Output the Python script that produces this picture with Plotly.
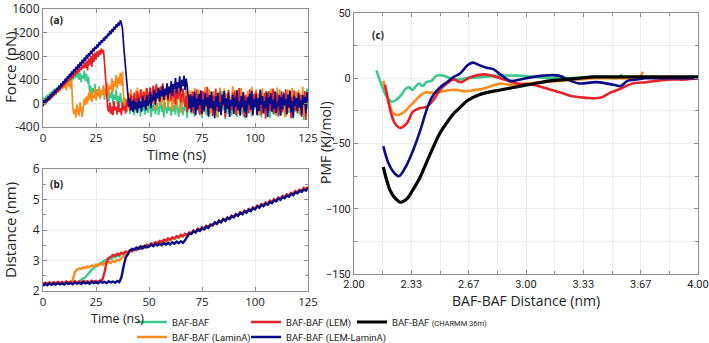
import numpy as np
import plotly.graph_objects as go

# ---------------- data ----------------
series_names = ["BAF-BAF", "BAF-BAF (LaminA)", "BAF-BAF (LEM)", "BAF-BAF (LEM-LaminA)", "BAF-BAF (CHARMM 36m)"]
colors = {"green": "#3cc98b", "orange": "#ff8a1c", "red": "#e52229", "navy": "#0b0b88", "black": "#000000"}

# (a) force vs time, sampled every 0.5 ns (0 .. 125 ns)
time_force = np.arange(0, 125.5, 0.5)

force_green = [
    20, 100, 40, 130, 80, 160, 110, 190, 140, 220, 170, 250, 190, 270, 220, 300, 240, 320, 270, 350,
    290, 380, 310, 400, 340, 430, 360, 460, 390, 500, 420, 540, 440, 560, 400, 520, 360, 480, 420, 560,
    380, 500, 340, 450, 160, 300, 120, 260, 180, 330, 100, 240, 160, 290, 90, 220, 140, 270, 60, 200,
    120, 250, 30, 180, 90, 220, -20, 150, 60, 240, 0, 130, -60, 180, 40, -90, 100, -40, 60, -150,
    -60, 50, -180, -20, -100, 60, -200, -40, 20, -150, -70, 40, -220, -10, -120, 70, -190, -50, 10, -160,
    -90, 30, -230, -30, -130, 50, -180, -60, 0, -200, -80, 40, -150, -20, -240, 20, -100, -170, 30, -130,
    -60, -210, 10, -140, -30, -190, 50, -110, -230, -20, -150, 40, -200, -60, -120, 30, -250, -10, -90, 60,
    -180, 100, -40, -220, 150, -110, 20, -170, 200, -60, -250, 80, -130, 0, -200, 120, -80, -230, 60, -150,
    40, -190, 170, -100, -20, -240, 110, -60, -160, 210, -120, 0, -270, 90, -50, -180, 140, -10, -210, 60,
    -130, 180, -70, -230, 40, -150, 250, -40, -190, 100, -100, -260, 60, -20, -160, 150, -80, -220, 20, -120,
    190, -60, -200, 80, -140, 10, -240, 130, -90, -170, 220, -30, -110, 50, -250, 100, -60, -180, 160, -20,
    -210, 70, -130, 240, -70, -190, 30, -120, 150, -230, -10, 110, -160, 60, -90, 200, -260, 0, -140, 90,
    -50, 170, -200, 40, -110, 130, -280, 20, -60, 250, -100,
]

force_orange = [
    -60, 40, -20, 80, 10, 110, 50, 150, 80, 180, 120, 210, 150, 250, 180, 280, 210, 310, 240, 340,
    260, 350, 220, 380, 290, 360, 250, 400, -50, -180, -100, -240, -20, -150, -210, 20, -120, -230, -60, 80,
    -30, 120, 0, 180, 60, 220, 20, 150, 90, 260, 50, 200, 120, 280, 70, 230, 150, 310, 100, 250,
    170, 350, 130, 300, 230, 420, 190, 380, 280, 480, 250, 440, 330, 520, 300, 540, 120, -40, 80, -120,
    40, 180, -60, 240, 20, 130, -80, 200, 60, 270, -20, 150, 90, 230, -50, 190, 30, 250, -90, 120,
    70, 210, -60, 160, 0, 240, -110, 130, 50, 200, -40, 260, 20, 140, -100, 180, 60, 230, -70, 110,
    30, 200, -130, 150, -10, 240, -80, 120, 70, 210, -160, 90, 20, 190, -60, 250, -120, 140, 40, 220,
    -90, 170, 10, 260, -140, 120, 60, 230, -50, 180, -200, 100, 30, 280, -100, 150, -20, 240, -170, 90,
    50, 210, -80, 160, -230, 130, 20, 270, -110, 60, -40, 250, -150, 170, 0, 220, -190, 110, 70, 290,
    -120, 140, -30, 230, -180, 80, 40, 260, -90, 190, -240, 120, 10, 210, -60, 150, -150, 280, -20, 100,
    60, 240, -130, 170, -210, 90, 0, 260, -70, 130, -160, 210, 30, 180, -100, 250, -40, 110, -190, 200,
    20, 270, -80, 150, -140, 220, -10, 90, -230, 180, 50, 240, -120, 130, -30, 260, -170, 100, 10, 200,
    -90, 230, -150, 160, 0, 280, -200, 120, -40, 190, 60,
]

force_red = [
    -30, 50, 0, 70, 30, 110, 50, 140, 90, 170, 120, 210, 150, 240, 190, 280, 220, 310, 260, 350,
    300, 390, 330, 420, 370, 450, 400, 490, 430, 520, 470, 560, 500, 590, 530, 620, 560, 650, 590, 690,
    600, 720, 560, 760, 650, 800, 620, 840, 700, 860, 740, 880, 790, 900, 820, 930, 850, 910, 700, 420,
    150, -80, -150, 20, -180, -50, -200, 40, -120, -60, -190, 30, -150, -80, -200, 10, -120, -40, -170, 60,
    -60, 100, -130, 150, 20, -90, 180, 40, -50, 210, 60, -20, 240, 90, 10, 200, 130, -30, 260, 80,
    120, 270, 40, 180, 300, 90, 220, 330, 110, 250, 60, 290, 150, 340, 70, 230, 120, 300, 40, 260,
    180, 60, 320, 100, 230, -20, 280, 80, 150, 340, 10, 190, 250, 40, -60, 130, -150, 60, -100, 150,
    -50, 200, -170, 90, -20, 240, -120, 130, -200, 70, 10, 210, -150, 160, -60, 280, -180, 100, -30, 190,
    -220, 130, -80, 250, -130, 60, -10, 200, -190, 110, -50, 170, -240, 90, 20, 230, -160, 50, -110, 180,
    -40, 220, -200, 120, -90, 260, -150, 70, 0, 190, -230, 140, -60, 90, -170, 240, -20, 110, -210, 160,
    -70, 200, -140, 50, -30, 230, -190, 120, -100, 180, -260, 80, 10, 210, -130, 140, -50, 250, -180, 100,
    -20, 170, -220, 60, -110, 200, -150, 130, -40, 240, -190, 90, -80, 180, -250, 110, 0, 220, -120, 70,
    -170, 190, -60, 140, -230, 80, -20, 210, -280, 120, 30,
]

force_navy = [
    -40, 60, -10, 80, 40, 120, 60, 150, 100, 190, 140, 230, 170, 260, 220, 300, 250, 340, 290, 380,
    330, 420, 370, 460, 420, 500, 450, 540, 490, 580, 530, 620, 570, 660, 600, 700, 640, 740, 680, 780,
    720, 820, 760, 850, 800, 890, 840, 930, 880, 960, 920, 1000, 950, 1040, 990, 1070, 1030, 1110, 1060, 1140,
    1100, 1180, 1140, 1230, 1170, 1260, 1210, 1300, 1250, 1340, 1290, 1370, 1320, 1410, 1360, 1260, 1000, 780, 520, 280,
    100, -50, 80, -120, 40, -150, 60, -100, 20, -160, 90, -80, 30, -140, 120, -60, 50, -120, 140, -40,
    0, 200, -80, 150, 40, 230, -20, 180, 90, 270, 30, 220, 120, 300, 60, 250, 150, 340, 80, 290,
    180, 380, 130, 330, 240, 430, 170, 360, 260, 460, 200, 400, 290, 470, 230, 420, 300, 100, -80, 150,
    -150, 120, -60, 200, -200, 80, -100, 160, -30, 220, -180, 60, -120, 180, -40, 100, -220, 140, -80, 200,
    -100, 40, -250, 120, -60, 180, -140, 20, -200, 150, -20, 210, -160, 80, -90, 170, -230, 60, -40, 140,
    -180, 100, -50, 220, -120, 30, -210, 130, -70, 190, -150, 50, -240, 110, -30, 160, -110, 210, -190, 70,
    -60, 150, -200, 90, -130, 230, -20, 120, -170, 40, -80, 190, -230, 100, -10, 170, -140, 60, -90, 200,
    -160, 30, -50, 140, -210, 110, -100, 180, -30, 70, -180, 150, -70, 220, -150, 40, -240, 130, -40, 90,
    -130, 170, -70, 60, -200, 140, -20, 110, -160, 190, 40,
]

# (b) distance vs time, sampled every 1 ns (0 .. 125 ns)
time_dist = np.arange(0, 126, 1)

dist_green = [
    2.21, 2.26, 2.22, 2.28, 2.23, 2.27, 2.24, 2.29, 2.25, 2.28,
    2.24, 2.30, 2.26, 2.29, 2.25, 2.31, 2.27, 2.32, 2.38, 2.42,
    2.45, 2.55, 2.62, 2.70, 2.76, 2.82, 2.86, 2.92, 2.95, 3.00,
    3.02, 3.08, 3.05, 3.12, 3.10, 3.17, 3.14, 3.22, 3.20, 3.27,
    3.25, 3.32, 3.30, 3.37, 3.34, 3.41, 3.38, 3.45, 3.42, 3.49,
    3.46, 3.53, 3.50, 3.57, 3.54, 3.61, 3.58, 3.65, 3.62, 3.69,
    3.66, 3.73, 3.70, 3.77, 3.74, 3.81, 3.78, 3.85, 3.82, 3.89,
    3.88, 3.97, 3.93, 4.03, 3.98, 4.08, 4.03, 4.13, 4.09, 4.18,
    4.15, 4.24, 4.21, 4.31, 4.26, 4.36, 4.31, 4.41, 4.37, 4.46,
    4.42, 4.52, 4.47, 4.57, 4.53, 4.62, 4.58, 4.68, 4.63, 4.72,
    4.69, 4.79, 4.74, 4.84, 4.79, 4.89, 4.85, 4.94, 4.90, 4.99,
    4.95, 5.05, 5.00, 5.10, 5.06, 5.15, 5.11, 5.20, 5.16, 5.25,
    5.22, 5.30, 5.26, 5.35, 5.31, 5.40,
]

dist_orange = [
    2.20, 2.25, 2.21, 2.27, 2.22, 2.28, 2.23, 2.29, 2.24, 2.30,
    2.25, 2.31, 2.26, 2.32, 2.35, 2.62, 2.70, 2.74, 2.72, 2.78,
    2.75, 2.81, 2.78, 2.84, 2.80, 2.87, 2.83, 2.90, 2.86, 2.93,
    2.89, 2.96, 2.92, 2.99, 2.95, 3.03, 3.00, 3.08, 3.15, 3.22,
    3.26, 3.33, 3.30, 3.38, 3.34, 3.42, 3.39, 3.46, 3.43, 3.50,
    3.47, 3.54, 3.51, 3.58, 3.55, 3.62, 3.59, 3.66, 3.63, 3.70,
    3.67, 3.74, 3.71, 3.78, 3.75, 3.82, 3.79, 3.86, 3.83, 3.90,
    3.90, 3.96, 3.95, 4.01, 4.00, 4.06, 4.05, 4.11, 4.10, 4.16,
    4.16, 4.22, 4.21, 4.28, 4.27, 4.33, 4.32, 4.38, 4.38, 4.44,
    4.43, 4.50, 4.49, 4.55, 4.54, 4.60, 4.60, 4.66, 4.65, 4.71,
    4.71, 4.77, 4.76, 4.82, 4.81, 4.88, 4.87, 4.93, 4.92, 4.98,
    4.97, 5.04, 5.03, 5.09, 5.08, 5.14, 5.13, 5.20, 5.19, 5.25,
    5.24, 5.30, 5.29, 5.36, 5.34, 5.41,
]

dist_red = [
    2.22, 2.27, 2.23, 2.28, 2.24, 2.29, 2.25, 2.30, 2.26, 2.29,
    2.25, 2.31, 2.27, 2.30, 2.26, 2.32, 2.28, 2.31, 2.27, 2.33,
    2.29, 2.32, 2.28, 2.34, 2.30, 2.33, 2.29, 2.35, 2.36, 2.60,
    2.95, 3.08, 3.12, 3.18, 3.15, 3.22, 3.19, 3.26, 3.23, 3.30,
    3.27, 3.34, 3.31, 3.38, 3.35, 3.42, 3.39, 3.46, 3.44, 3.51,
    3.48, 3.56, 3.53, 3.60, 3.57, 3.64, 3.61, 3.68, 3.65, 3.72,
    3.69, 3.76, 3.73, 3.80, 3.77, 3.84, 3.81, 3.88, 3.85, 3.92,
    3.89, 3.98, 3.94, 4.04, 3.99, 4.09, 4.04, 4.14, 4.10, 4.19,
    4.15, 4.25, 4.20, 4.30, 4.26, 4.36, 4.31, 4.41, 4.37, 4.47,
    4.42, 4.52, 4.47, 4.58, 4.53, 4.63, 4.58, 4.68, 4.64, 4.74,
    4.69, 4.80, 4.75, 4.85, 4.80, 4.90, 4.86, 4.96, 4.91, 5.01,
    4.96, 5.06, 5.02, 5.12, 5.07, 5.17, 5.12, 5.22, 5.18, 5.28,
    5.23, 5.32, 5.28, 5.38, 5.33, 5.42,
]

dist_navy = [
    2.17, 2.23, 2.19, 2.25, 2.20, 2.24, 2.21, 2.26, 2.22, 2.25,
    2.21, 2.27, 2.23, 2.26, 2.22, 2.28, 2.24, 2.27, 2.23, 2.29,
    2.25, 2.28, 2.24, 2.30, 2.26, 2.29, 2.25, 2.31, 2.27, 2.30,
    2.26, 2.32, 2.28, 2.31, 2.27, 2.33, 2.29, 2.45, 2.80, 3.10,
    3.20, 3.32, 3.38, 3.35, 3.42, 3.38, 3.46, 3.40, 3.48, 3.43,
    3.46, 3.52, 3.47, 3.54, 3.49, 3.55, 3.50, 3.57, 3.52, 3.58,
    3.53, 3.60, 3.55, 3.62, 3.57, 3.63, 3.58, 3.66, 3.78, 3.88,
    3.87, 3.96, 3.92, 4.01, 3.97, 4.06, 4.02, 4.11, 4.07, 4.16,
    4.16, 4.25, 4.20, 4.30, 4.25, 4.35, 4.30, 4.40, 4.36, 4.45,
    4.42, 4.51, 4.47, 4.56, 4.52, 4.61, 4.57, 4.66, 4.62, 4.71,
    4.68, 4.77, 4.73, 4.82, 4.78, 4.87, 4.83, 4.92, 4.88, 4.97,
    4.94, 5.03, 4.99, 5.08, 5.04, 5.13, 5.09, 5.18, 5.14, 5.23,
    5.20, 5.28, 5.25, 5.33, 5.29, 5.38,
]

# (c) PMF vs BAF-BAF distance
pmf_green_d = [2.13, 2.16, 2.19, 2.22, 2.25, 2.28, 2.30, 2.32, 2.34, 2.36, 2.38, 2.40, 2.42, 2.45, 2.48,
               2.52, 2.56, 2.60, 2.65, 2.75, 2.85, 2.95, 3.05, 3.15, 3.25, 3.35, 3.45, 3.53, 3.56]
pmf_green = [6, -5, -14, -18, -16, -12, -8, -7, -9, -6, -4, -6, -3, -2, 2,
             2, 0, -1, 0, 1, 2, 2, 1, 0, 0, 1, 1, 0, 3]

pmf_orange_d = [2.17, 2.19, 2.21, 2.23, 2.26, 2.29, 2.32, 2.35, 2.38, 2.41, 2.44, 2.48, 2.52, 2.56, 2.60,
                2.65, 2.70, 2.75, 2.80, 2.85, 2.90, 3.00, 3.10, 3.20, 3.30, 3.40, 3.50, 3.60, 3.66, 3.68]
pmf_orange = [-2, -12, -22, -27, -28, -26, -22, -18, -14, -11, -11, -11, -10, -9, -9,
              -10, -9, -8, -6, -4, -5, -4, -3, -2, -1, 0, 0, 0, 1, 5]

pmf_red_d = [2.18, 2.20, 2.22, 2.24, 2.27, 2.31, 2.34, 2.38, 2.42, 2.46, 2.50, 2.54, 2.58, 2.62, 2.68,
             2.75, 2.80, 2.85, 2.95, 3.04, 3.10, 3.20, 3.28, 3.35, 3.43, 3.49, 3.55, 3.62, 3.70, 3.76,
             3.85, 3.92, 4.00]
pmf_red = [-5, -18, -29, -35, -38, -34, -26, -23, -22, -17, -9, -4, -1, -3, 1,
           3, 2, 0, -4, -5, -7, -11, -14, -15, -15, -11, -8, -4, -3, -2,
           -1, -1, 0]

pmf_navy_d = [2.17, 2.20, 2.23, 2.26, 2.30, 2.35, 2.39, 2.42, 2.44, 2.46, 2.50, 2.54, 2.58, 2.62, 2.66,
              2.69, 2.73, 2.77, 2.81, 2.85, 2.91, 3.00, 3.10, 3.19, 3.26, 3.31, 3.41, 3.51, 3.55, 3.59,
              3.64, 3.70, 3.80, 3.90, 4.00]
pmf_navy = [-52, -65, -72, -75, -68, -53, -38, -25, -18, -13, -7, -3, 1, 4, 10,
            12, 10, 8, 7, 3, -2, 0, 2, 2, -2, -4, -3, -5, -6, -2,
            -1, 0, 0, 0, 0]

pmf_black_d = [2.17, 2.19, 2.21, 2.24, 2.27, 2.31, 2.34, 2.38, 2.42, 2.46, 2.50, 2.54, 2.58, 2.62, 2.66,
               2.72, 2.77, 2.85, 2.97, 3.05, 3.14, 3.22, 3.31, 3.40, 3.50, 3.60, 3.70, 3.80, 3.90, 4.00]
pmf_black = [-68, -78, -86, -92, -95, -92, -86, -77, -65, -53, -42, -34, -27, -22, -17,
             -13, -11, -9, -6, -4, -2, -1, 0, 1, 1, 1, 1, 1, 1, 1]

# tick labels
force_ticks = [1600, 1200, 800, 400, 0, -400]
force_ticktext = ["1600", "1200", "800", "400", "0", "-400"]
time_ticks = [0, 25, 50, 75, 100, 125]
dist_ticks = [2, 3, 4, 5, 6]
pmf_x_ticks = [2.0, 2.3333, 2.6667, 3.0, 3.3333, 3.6667, 4.0]
pmf_x_ticktext = ["2.00", "2.33", "2.67", "3.00", "3.33", "3.67", "4.00"]
pmf_y_ticks = [50, 0, -50, -100, -150]

# ---------------- figure ----------------
W, H = 709, 343
fig = go.Figure()

force_sets = [(force_green, "green"), (force_orange, "orange"), (force_red, "red"), (force_navy, "navy")]
for vals, c in force_sets:
    fig.add_trace(go.Scatter(x=time_force, y=vals, mode="lines", line=dict(color=colors[c], width=1.7),
                             xaxis="x", yaxis="y", showlegend=False, hoverinfo="skip"))

dist_sets = [(dist_green, "green"), (dist_orange, "orange"), (dist_red, "red"), (dist_navy, "navy")]
for vals, c in dist_sets:
    fig.add_trace(go.Scatter(x=time_dist, y=vals, mode="lines", line=dict(color=colors[c], width=2.4),
                             xaxis="x2", yaxis="y2", showlegend=False, hoverinfo="skip"))

# legend placement (container px): one legend box per entry to mimic the 3 + 2 grid
leg_font = dict(family="Roboto", size=9.5, color="#222")
legend_slots = {
    "legend": (132, 322), "legend2": (132, 337),
    "legend3": (246, 322), "legend4": (246, 337), "legend5": (352, 322),
}
pmf_sets = [
    (pmf_green_d, pmf_green, "green", series_names[0], "legend"),
    (pmf_orange_d, pmf_orange, "orange", series_names[1], "legend2"),
    (pmf_red_d, pmf_red, "red", series_names[2], "legend3"),
    (pmf_navy_d, pmf_navy, "navy", series_names[3], "legend4"),
    (pmf_black_d, pmf_black, "black", 'BAF-BAF <span style="font-size:7.5px">(CHARMM 36m)</span>', "legend5"),
]
for d, p, c, name, leg in pmf_sets:
    fig.add_trace(go.Scatter(x=d, y=p, mode="lines", name=name,
                             line=dict(color=colors[c], width=3.2 if c == "black" else 2.6, shape="spline"),
                             xaxis="x3", yaxis="y3", legend=leg, hoverinfo="skip"))

def px_x(px):
    return px / W

def px_y(py):
    return 1 - py / H

frame = "#8c8c8c"
grid = "#ececec"
tickfont = dict(family="Open Sans", size=12, color="#222")
tickfont_x = dict(family="Open Sans", size=11.5, color="#222")
tickfont_c = dict(family="Roboto", size=11, color="#222")

common = dict(showline=True, linecolor=frame, linewidth=1, mirror="ticks", ticks="inside",
              ticklen=4, tickcolor=frame, showgrid=True, gridcolor=grid, gridwidth=1, zeroline=False,
              automargin=False, ticklabeloverflow="allow")

layout_legends = {}
for key, (lx, ly) in legend_slots.items():
    layout_legends[key] = dict(x=px_x(lx), y=px_y(ly), xref="container", yref="container",
                               xanchor="left", yanchor="middle", bgcolor="rgba(0,0,0,0)",
                               borderwidth=0, font=leg_font, itemwidth=30, tracegroupgap=0)

fig.update_layout(
    width=W, height=H, margin=dict(l=0, r=0, t=0, b=0, autoexpand=False),
    paper_bgcolor="white", plot_bgcolor="white",
    xaxis=dict(domain=[px_x(43), px_x(308)], range=[0, 125], tickvals=time_ticks, tickfont=tickfont_x,
               anchor="y", **common),
    yaxis=dict(domain=[px_y(127), px_y(9)], range=[-400, 1600], tickvals=force_ticks, ticktext=force_ticktext,
               tickfont=tickfont, anchor="x", **common),
    xaxis2=dict(domain=[px_x(43), px_x(308)], range=[0, 125], tickvals=time_ticks, tickfont=tickfont_x,
                anchor="y2", **common),
    yaxis2=dict(domain=[px_y(291), px_y(169)], range=[2, 6], tickvals=dist_ticks, tickfont=tickfont,
                anchor="x2", minor=dict(dtick=0.5, ticks="inside", ticklen=3, tickcolor=frame, showgrid=False),
                **common),
    xaxis3=dict(domain=[px_x(354), px_x(698)], range=[2, 4], tickvals=pmf_x_ticks, ticktext=pmf_x_ticktext,
                tickfont=tickfont_c, anchor="y3",
                minor=dict(tickvals=[2.1667, 2.5, 2.8333, 3.1667, 3.5, 3.8333], ticks="inside", ticklen=3,
                           tickcolor=frame, showgrid=True, gridcolor=grid),
                **common),
    yaxis3=dict(domain=[px_y(274), px_y(13)], range=[-150, 50], tickvals=pmf_y_ticks, tickfont=tickfont_c,
                anchor="x3",
                minor=dict(dtick=25, ticks="inside", ticklen=3, tickcolor=frame, showgrid=True, gridcolor=grid),
                **common),
    **layout_legends,
)

# axis titles as annotations (container pixels)
axis_titles = [
    ("Force (pN)", 10, 67, -90, 15),
    ("Distance (nm)", 10, 230, -90, 15),
    ("PMF (KJ/mol)", 325, 143, -90, 14),
    ("Time (ns)", 176, 155, 0, 14),
    ("Time (ns)", 117, 318, 0, 12.5),
    ("BAF-BAF Distance (nm)", 526, 300, 0, 14),
]
for txt, ax, ay, ang, fs in axis_titles:
    fig.add_annotation(text=txt, xref="paper", yref="paper", x=px_x(ax), y=px_y(ay), showarrow=False,
                       textangle=ang, xanchor="center", yanchor="middle",
                       font=dict(family="Open Sans", size=fs, color="#222"))

panel_labels = [("(a)", "x domain", "y domain", 0.05, 0.91), ("(b)", "x2 domain", "y2 domain", 0.05, 0.88),
                ("(c)", "x3 domain", "y3 domain", 0.07, 0.915)]
for txt, xr, yr, xx, yy in panel_labels:
    fig.add_annotation(text=f"<b>{txt}</b>", xref=xr, yref=yr, x=xx, y=yy, showarrow=False,
                       xanchor="center", yanchor="middle", font=dict(family="Open Sans", size=10, color="#222"))

fig.write_html("out.html")
